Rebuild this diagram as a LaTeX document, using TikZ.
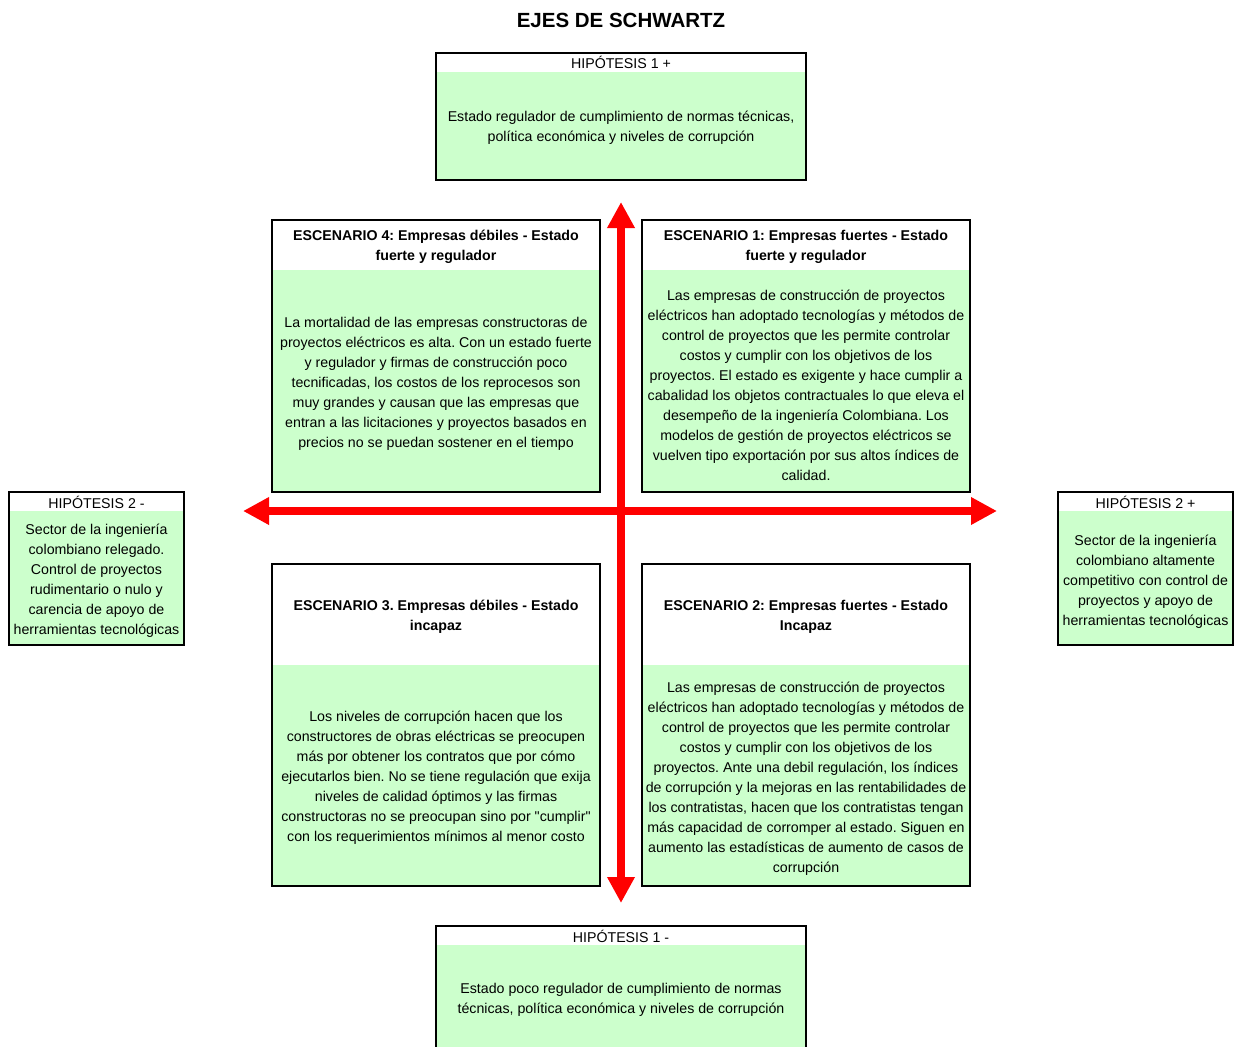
\documentclass[tikz,border=0pt]{standalone}
\usepackage{fontspec}
\setmainfont{Liberation Sans}
\usepackage{xcolor}
\usetikzlibrary{arrows.meta}
\definecolor{verdecaja}{HTML}{CCFFCC}
\definecolor{rojoeje}{HTML}{FF0000}
\frenchspacing
\tikzset{
  borde/.style={line width=2pt,black},
  cab/.style={font=\fontsize{14.2}{20}\selectfont,inner sep=0pt},
  cuerpo/.style={font=\fontsize{14.2}{20}\selectfont,align=center,inner sep=0pt},
  titesc/.style={font=\fontsize{14.2}{20}\selectfont\bfseries,align=center,inner sep=0pt},
  eje/.style={rojoeje,line width=8pt,
    {Triangle[length=26pt,width=26pt]}-{Triangle[length=26pt,width=26pt]}}
}

\begin{document}
\begin{tikzpicture}[x=1pt,y=-1pt]
\clip (0,0) rectangle (1238,1046);
\node[font=\fontsize{20.5}{24}\selectfont\bfseries] (titulo) at (621,20) {EJES DE SCHWARTZ};
% hipotesis 1 +
\fill[verdecaja] (436,53) rectangle (806,180);
\fill[white] (436,53) rectangle (806,72);
\draw[borde] (436,53) rectangle (806,180);
\node[cab] (h1mas) at (621,62.5) {HIPÓTESIS 1 +};
\node[cuerpo] (h1masT) at (621,128) {Estado regulador de cumplimiento de normas técnicas,\\ política económica y niveles de corrupción};
% hipotesis 1 -
\fill[verdecaja] (436,926) rectangle (806,1050);
\fill[white] (436,926) rectangle (806,945);
\draw[borde] (436,926) rectangle (806,1050);
\node[cab] (h1menos) at (621,936.5) {HIPÓTESIS 1 -};
\node[cuerpo] (h1menosT) at (621,999.5) {Estado poco regulador de cumplimiento de normas\\ técnicas, política económica y niveles de corrupción};
% hipotesis 2 -
\fill[verdecaja] (9,492) rectangle (184,645);
\fill[white] (9,492) rectangle (184,511);
\draw[borde] (9,492) rectangle (184,645);
\node[cab] (h2menos) at (96.5,502.5) {HIPÓTESIS 2 -};
\node[cuerpo] (h2menosT) at (96.5,581) {Sector de la ingeniería\\ colombiano relegado.\\ Control de proyectos\\ rudimentario o nulo y\\ carencia de apoyo de\\ herramientas tecnológicas};
% hipotesis 2 +
\fill[verdecaja] (1058,492) rectangle (1233,645);
\fill[white] (1058,492) rectangle (1233,511);
\draw[borde] (1058,492) rectangle (1233,645);
\node[cab] (h2mas) at (1145.5,502.5) {HIPÓTESIS 2 +};
\node[cuerpo] (h2masT) at (1145.5,581.5) {Sector de la ingeniería\\ colombiano altamente\\ competitivo con control de\\ proyectos y apoyo de\\ herramientas tecnológicas};
% escenario 4
\fill[verdecaja] (272,220) rectangle (600,492);
\fill[white] (272,220) rectangle (600,270);
\draw[borde] (272,220) rectangle (600,492);
\node[titesc] (esc4) at (436,247) {ESCENARIO 4: Empresas débiles - Estado\\ fuerte y regulador};
\node[cuerpo] (esc4T) at (436,384) {La mortalidad de las empresas constructoras de\\ proyectos eléctricos es alta. Con un estado fuerte\\ y regulador y firmas de construcción poco\\ tecnificadas, los costos de los reprocesos son\\ muy grandes y causan que las empresas que\\ entran a las licitaciones y proyectos basados en\\ precios no se puedan sostener en el tiempo};
% escenario 1
\fill[verdecaja] (642,220) rectangle (970,492);
\fill[white] (642,220) rectangle (970,270);
\draw[borde] (642,220) rectangle (970,492);
\node[titesc] (esc1) at (806,247) {ESCENARIO 1: Empresas fuertes - Estado\\ fuerte y regulador};
\node[cuerpo] (esc1T) at (806,385) {Las empresas de construcción de proyectos\\ eléctricos han adoptado tecnologías y métodos de\\ control de proyectos que les permite controlar\\ costos y cumplir con los objetivos de los\\ proyectos. El estado es exigente y hace cumplir a\\ cabalidad los objetos contractuales lo que eleva el\\ desempeño de la ingeniería Colombiana. Los\\ modelos de gestión de proyectos eléctricos se\\ vuelven tipo exportación por sus altos índices de\\ calidad.};
% escenario 3
\fill[verdecaja] (272,564) rectangle (600,886);
\fill[white] (272,564) rectangle (600,665);
\draw[borde] (272,564) rectangle (600,886);
\node[titesc] (esc3) at (436,617) {ESCENARIO 3. Empresas débiles - Estado\\ incapaz};
\node[cuerpo] (esc3T) at (436,778) {Los niveles de corrupción hacen que los\\ constructores de obras eléctricas se preocupen\\ más por obtener los contratos que por cómo\\ ejecutarlos bien. No se tiene regulación que exija\\ niveles de calidad óptimos y las firmas\\ constructoras no se preocupan sino por \textquotedbl cumplir\textquotedbl\\ con los requerimientos mínimos al menor costo};
% escenario 2
\fill[verdecaja] (642,564) rectangle (970,886);
\fill[white] (642,564) rectangle (970,665);
\draw[borde] (642,564) rectangle (970,886);
\node[titesc] (esc2) at (806,617) {ESCENARIO 2: Empresas fuertes - Estado\\ Incapaz};
\node[cuerpo] (esc2T) at (806,779) {Las empresas de construcción de proyectos\\ eléctricos han adoptado tecnologías y métodos de\\ control de proyectos que les permite controlar\\ costos y cumplir con los objetivos de los\\ proyectos. Ante una debil regulación, los índices\\ de corrupción y la mejoras en las rentabilidades de\\ los contratistas, hacen que los contratistas tengan\\ más capacidad de corromper al estado. Siguen en\\ aumento las estadísticas de aumento de casos de\\ corrupción};
% ejes
\coordinate (ejeN) at (621,202);
\coordinate (ejeS) at (621,903);
\coordinate (ejeO) at (243,511);
\coordinate (ejeE) at (997,511);
\draw[eje] (ejeN) -- (ejeS);
\draw[eje] (ejeO) -- (ejeE);
\end{tikzpicture}
\end{document}
